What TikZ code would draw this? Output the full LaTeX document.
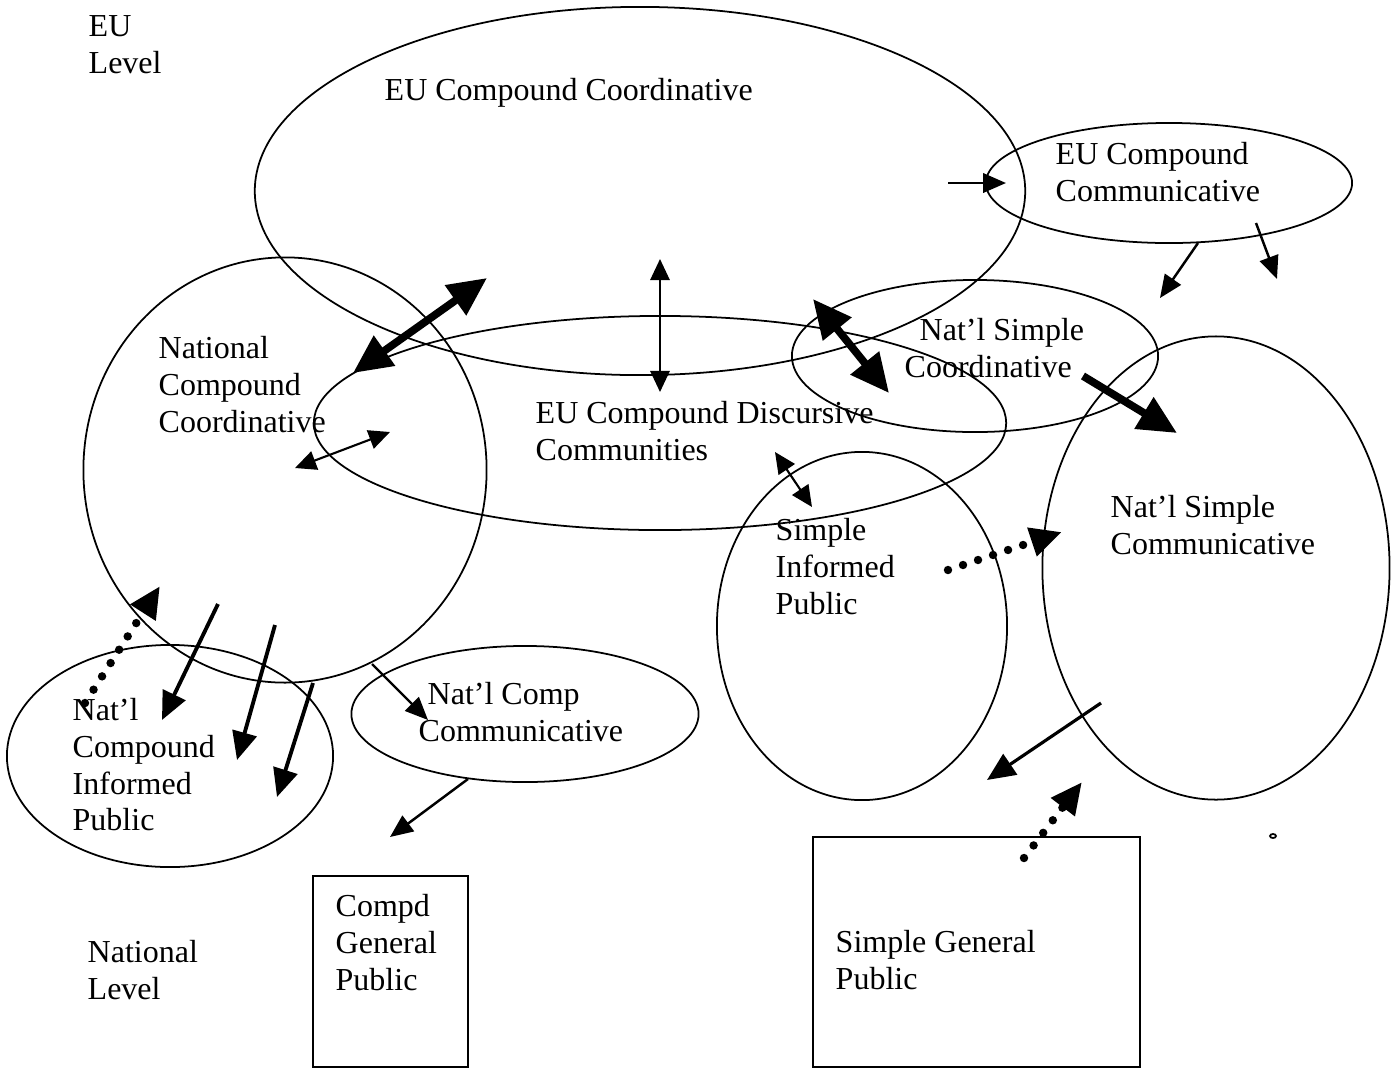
\documentclass[tikz,border=0pt]{standalone}
\usepackage{fontspec}
\setmainfont{Liberation Serif}
\usetikzlibrary{shapes.geometric,arrows.meta}
\begin{document}
\begin{tikzpicture}[
      x=0.01cm, y=-0.01cm,
      oval/.style={ellipse, draw, line width=0.5pt, inner sep=0pt},
      box/.style={rectangle, draw, line width=0.6pt, inner sep=0pt},
      txt/.style={anchor=north west, inner sep=0pt, align=left, font=\fontsize{9.1pt}{10.4pt}\selectfont},
      thinarr/.style={-{Triangle[length=6.5pt, width=5.5pt]}, line width=0.7pt},
      thinboth/.style={{Triangle[length=6pt, width=5.5pt]}-{Triangle[length=6pt, width=5.5pt]}, line width=0.6pt},
      midarr/.style={-{Triangle[length=8pt, width=7pt]}, line width=1.1pt},
      thickarr/.style={-{Triangle[length=11pt, width=10pt]}, line width=2.2pt},
      thickboth/.style={{Triangle[length=11pt, width=10pt]}-{Triangle[length=11pt, width=10pt]}, line width=2.2pt},
      dotarr/.style={-{Triangle[length=9pt, width=8pt]}, line width=2.4pt, line cap=round, dash pattern=on 0pt off 4.5pt}
  ]
  \useasboundingbox (0,0) rectangle (1399,1069);

  % Ovals and boxes
  \node[oval, minimum width=7.70cm, minimum height=3.68cm] (eucoord) at (640,191) {};
  \node[oval, minimum width=3.66cm, minimum height=1.20cm] (eucomm) at (1169,183) {};
  \node[oval, minimum width=4.03cm, minimum height=4.25cm] (natcoord) at (285,470) {};
  \node[oval, minimum width=6.92cm, minimum height=2.14cm] (eudisc) at (660,423) {};
  \node[oval, minimum width=3.66cm, minimum height=1.52cm] (simplecoord) at (975,356) {};
  \node[oval, minimum width=3.47cm, minimum height=4.63cm] (simplecomm) at (1216,568) {};
  \node[oval, minimum width=2.90cm, minimum height=3.48cm] (simpleinf) at (862,626) {};
  \node[oval, minimum width=3.26cm, minimum height=2.22cm] (natinf) at (170,756) {};
  \node[oval, minimum width=3.47cm, minimum height=1.36cm] (natcomm) at (525,714) {};
  \node[oval, minimum width=0.06cm, minimum height=0.04cm] (speck) at (1273,836) {};
  \node[box, minimum width=1.55cm, minimum height=1.91cm] (compdgen) at (390.5,971.5) {};
  \node[box, minimum width=3.27cm, minimum height=2.30cm] (simplegen) at (976.5,952) {};

  % Texts
  \node[txt] (eulevel) at (88,15) {EU\\Level};
  \node[txt] (natlevel) at (87,940) {National\\Level};
  \node[txt] (eucoordtxt) at (384,78) {EU Compound Coordinative};
  \node[txt] (eucommtxt) at (1055,142) {EU Compound\\Communicative};
  \node[txt] (natcoordtxt) at (158,336) {National\\Compound\\Coordinative};
  \node[txt] (eudisctxt) at (535,401) {EU Compound Discursive\\Communities};
  \node[txt] (simplecoordtxt) at (904,318) {\hspace*{0.15cm}Nat’l Simple\\Coordinative};
  \node[txt] (simplecommtxt) at (1110,495) {Nat’l Simple\\Communicative};
  \node[txt] (simpleinftxt) at (775,518) {Simple\\Informed\\Public};
  \node[txt] (natinftxt) at (72,698) {Nat’l\\Compound\\Informed\\Public};
  \node[txt] (natcommtxt) at (418,682) {\hspace*{0.09cm}Nat’l Comp\\Communicative};
  \node[txt] (compdgentxt) at (335,894) {Compd\\General\\Public};
  \node[txt] (simplegentxt) at (835,930) {Simple General\\Public};

  % Arrow ends
  \coordinate (e1a) at (948,183);  \coordinate (e1b) at (1006,183);
  \coordinate (e2a) at (1198,243); \coordinate (e2b) at (1160,298);
  \coordinate (e3a) at (1256,223); \coordinate (e3b) at (1277,279);
  \coordinate (v1a) at (660,259);  \coordinate (v1b) at (660,392);
  \coordinate (t1a) at (487,278);  \coordinate (t1b) at (353,373);
  \coordinate (d1a) at (390,432);  \coordinate (d1b) at (295,468);
  \coordinate (t2a) at (813,299);  \coordinate (t2b) at (889,393);
  \coordinate (t3a) at (1083,376); \coordinate (t3b) at (1177,433);
  \coordinate (d2a) at (775,452);  \coordinate (d2b) at (812,507);
  \coordinate (p1a) at (948,570);  \coordinate (p1b) at (1062,532);
  \coordinate (n1a) at (218,604);  \coordinate (n1b) at (162,720);
  \coordinate (n2a) at (275,625);  \coordinate (n2b) at (237,760);
  \coordinate (n3a) at (313,683);  \coordinate (n3b) at (277,797);
  \coordinate (p2a) at (85,703);   \coordinate (p2b) at (160,586);
  \coordinate (c1a) at (372,664);  \coordinate (c1b) at (428,720);
  \coordinate (c2a) at (468,779);  \coordinate (c2b) at (390,837);
  \coordinate (s1a) at (1101,703); \coordinate (s1b) at (987,780);
  \coordinate (p3a) at (1024,858); \coordinate (p3b) at (1082,782);

  % Arrows
  \draw[thinarr] (e1a) -- (e1b);
  \draw[thinarr] (e2a) -- (e2b);
  \draw[thinarr] (e3a) -- (e3b);
  \draw[thinboth] (v1a) -- (v1b);
  \draw[thickboth] (t1a) -- (t1b);
  \draw[thinboth] (d1a) -- (d1b);
  \draw[thickboth] (t2a) -- (t2b);
  \draw[thickarr] (t3a) -- (t3b);
  \draw[thinboth] (d2a) -- (d2b);
  \draw[dotarr] (p1a) -- (p1b);
  \draw[midarr] (n1a) -- (n1b);
  \draw[midarr] (n2a) -- (n2b);
  \draw[midarr] (n3a) -- (n3b);
  \draw[dotarr] (p2a) -- (p2b);
  \draw[thinarr] (c1a) -- (c1b);
  \draw[thinarr] (c2a) -- (c2b);
  \draw[midarr, line width=0.9pt] (s1a) -- (s1b);
  \draw[dotarr] (p3a) -- (p3b);

\end{tikzpicture}
\end{document}
